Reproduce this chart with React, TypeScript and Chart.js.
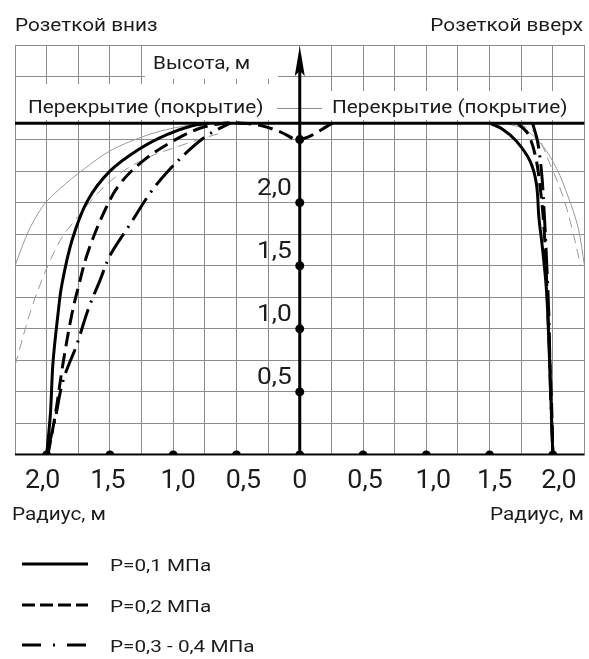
import React, { useEffect, useRef } from "react";
import { Chart, registerables } from "chart.js";

Chart.register(...registerables);

// ---------- data ----------
const xTickValues = [-2, -1.5, -1, -0.5, 0, 0.5, 1, 1.5, 2];
const xTickLabels = ["2,0", "1,5", "1,0", "0,5", "0", "0,5", "1,0", "1,5", "2,0"];
const yTickValues = [0.5, 1, 1.5, 2];
const yTickLabels = ["0,5", "1,0", "1,5", "2,0"];
const yDotValues = [0.5, 1, 1.5, 2, 2.5];
const roofHeight = 2.63;
const radiusMin = -2.25;
const radiusMax = 2.25;
const heightMax = 3.25;

// P = 0.1 MPa (solid)
const p1LeftR = [-2.0, -1.97, -1.95, -1.91, -1.88, -1.8, -1.68, -1.5, -1.26, -1.05, -0.85, -0.72];
const p1LeftH = [0, 0.33, 0.73, 1.12, 1.35, 1.7, 2.01, 2.25, 2.43, 2.54, 2.61, 2.63];
const p1RightR = [1.5, 1.6, 1.71, 1.82, 1.87, 1.89, 1.92, 1.95, 1.97, 2.0];
const p1RightH = [2.63, 2.585, 2.49, 2.33, 2.15, 1.88, 1.62, 1.3, 0.85, 0];

// P = 0.2 MPa (dashed)
const p2LeftR = [-1.99, -1.93, -1.87, -1.8, -1.75, -1.67, -1.53, -1.42, -1.24, -1.0, -0.79, -0.6, -0.45, -0.3, -0.15, 0, 0.26];
const p2LeftH = [0, 0.33, 0.73, 1.12, 1.33, 1.62, 1.96, 2.15, 2.33, 2.49, 2.59, 2.63, 2.63, 2.61, 2.56, 2.5, 2.63];
const p2RightR = [1.72, 1.8, 1.86, 1.9, 1.93, 1.95, 1.97, 1.99, 2.0];
const p2RightH = [2.63, 2.55, 2.38, 2.12, 1.8, 1.4, 0.9, 0.4, 0];

// P = 0.3 - 0.4 MPa (dash-dot)
const p3LeftR = [-2.0, -1.93, -1.87, -1.76, -1.67, -1.58, -1.5, -1.34, -1.18, -1.05, -0.87, -0.72, -0.55];
const p3LeftH = [0, 0.3, 0.59, 0.88, 1.16, 1.38, 1.58, 1.83, 2.08, 2.24, 2.42, 2.54, 2.63];
const p3RightR = [1.84, 1.88, 1.91, 1.93, 1.95, 1.97, 1.98, 2.0];
const p3RightH = [2.63, 2.48, 2.25, 1.95, 1.55, 1.05, 0.55, 0];

// thin grey reference curves
const refSolidLeftR = [-2.25, -2.15, -2.07, -2.0, -1.85, -1.7, -1.5, -1.25, -1.05, -0.79];
const refSolidLeftH = [1.5, 1.76, 1.91, 2.01, 2.15, 2.27, 2.41, 2.52, 2.58, 2.63];
const refDashLeftR = [-2.25, -2.1, -1.91, -1.76, -1.52, -1.26, -0.89, -0.6];
const refDashLeftH = [0.71, 1.22, 1.67, 1.88, 2.15, 2.33, 2.47, 2.56];
const refSolidRightR = [1.62, 1.78, 1.92, 2.03, 2.12, 2.2, 2.25];
const refSolidRightH = [2.63, 2.58, 2.45, 2.27, 2.05, 1.8, 1.5];
const refDashRightR = [1.72, 1.86, 1.98, 2.08, 2.15, 2.22];
const refDashRightH = [2.63, 2.55, 2.3, 2.05, 1.8, 1.5];

const legendLabels = ["P=0,1 МПа", "P=0,2 МПа", "P=0,3 - 0,4 МПа"];

const FONT = "Roboto, 'Noto Sans', sans-serif";
const TEXT = "#1c1c1c";
// small horizontal nudges of the radius labels (layout only)
const xLabelNudge = [-4, -2, 5, 7, 0, 2, 7, 5, 6];

const pts = (r: number[], h: number[]) => r.map((x, i) => ({ x, y: h[i] }));

// draw text with a slight horizontal stretch (reference text is wide)
function drawText(ctx: any, text: string, x: number, y: number, size: number, align: string, sx: number, baseline = "alphabetic") {
  ctx.save();
  ctx.font = `${size}px ${FONT}`;
  ctx.textAlign = align;
  ctx.textBaseline = baseline;
  ctx.fillStyle = TEXT;
  ctx.translate(x, y);
  ctx.scale(sx, 1);
  ctx.fillText(text, 0, 0);
  ctx.restore();
}

const overlayPlugin = {
  id: "overlay",
  beforeDatasetsDraw(chart: any) {
    const ctx = chart.ctx;
    ctx.save();
    ctx.fillStyle = "#ffffff";
    // white label boxes that cover the grid
    ctx.fillRect(145, 46, 133, 33);
    ctx.fillRect(16, 84, 261, 36);
    ctx.fillRect(322, 91, 262, 29);
    ctx.restore();
  },
  afterDraw(chart: any) {
    const ctx = chart.ctx;
    const xs = chart.scales.x;
    const ys = chart.scales.y;
    const area = chart.chartArea;
    const x0 = xs.getPixelForValue(0);
    ctx.save();
    // arrow head of the height axis
    ctx.fillStyle = "#000";
    ctx.beginPath();
    ctx.moveTo(x0, area.top + 1);
    ctx.lineTo(x0 - 5, area.top + 31);
    ctx.lineTo(x0, area.top + 26);
    ctx.lineTo(x0 + 5, area.top + 31);
    ctx.closePath();
    ctx.fill();
    ctx.restore();

    // tick labels
    xTickValues.forEach((v, i) => {
      drawText(ctx, xTickLabels[i], xs.getPixelForValue(v) + xLabelNudge[i], ys.getPixelForValue(0) + 33, 25.5, "center", 1.05);
    });
    yTickValues.forEach((v, i) => {
      drawText(ctx, yTickLabels[i], x0 - 8, ys.getPixelForValue(v) - 8, 23.5, "right", 1.12);
    });

    // titles
    drawText(ctx, "Розеткой вниз", 15, 31, 18.7, "left", 1.11);
    drawText(ctx, "Высота, м", 153, 69, 18.7, "left", 1.11);
    drawText(ctx, "Перекрытие (покрытие)", 28, 113, 18.7, "left", 1.11);
    drawText(ctx, "Перекрытие (покрытие)", 332, 113, 18.7, "left", 1.11);
    drawText(ctx, "Радиус, м", 12, 520, 18.7, "left", 1.11);
    drawText(ctx, "Розеткой вверх", 583, 31, 18.7, "right", 1.11);
    drawText(ctx, "Радиус, м", 584, 520, 18.7, "right", 1.11);

    // legend
    const dashes = [[], [13, 5], [19, 12, 2, 12]];
    const rows = [564, 605, 645];
    ctx.save();
    rows.forEach((y, i) => {
      ctx.strokeStyle = "#000";
      ctx.lineWidth = 3;
      ctx.setLineDash(dashes[i]);
      ctx.beginPath();
      ctx.moveTo(22, y);
      ctx.lineTo(88, y);
      ctx.stroke();
      ctx.setLineDash([]);
      drawText(ctx, legendLabels[i], 110, y + 7, 17, "left", 1.22);
    });
    ctx.restore();
  },
};

export default function App() {
  const canvasRef = useRef<HTMLCanvasElement | null>(null);

  useEffect(() => {
    document.body.style.margin = "0";
    const canvas = canvasRef.current;
    if (!canvas) return;

    const thick = (data: any, dash: number[]) => ({
      data,
      showLine: true,
      borderColor: "#000",
      borderWidth: 3,
      borderDash: dash,
      pointRadius: 0,
      tension: 0.35,
      fill: false,
    });
    const thin = (data: any, dash: number[]) => ({
      data,
      showLine: true,
      borderColor: "#9a9a9a",
      borderWidth: 1,
      borderDash: dash,
      pointRadius: 0,
      tension: 0.35,
      fill: false,
    });

    const chart = new Chart(canvas, {
      type: "scatter",
      data: {
        datasets: [
          {
            data: [
              ...xTickValues.map((x) => ({ x, y: 0 })),
              ...yDotValues.map((y) => ({ x: 0, y })),
            ],
            showLine: false,
            pointRadius: 4.5,
            pointBackgroundColor: "#000",
            pointBorderWidth: 0,
          } as any,
          { ...thick([{ x: radiusMin, y: 0 }, { x: radiusMax, y: 0 }], []), tension: 0 },
          { ...thick([{ x: 0, y: 0 }, { x: 0, y: heightMax - 0.2 }], []), tension: 0 },
          { ...thick([{ x: radiusMin, y: roofHeight }, { x: radiusMax, y: roofHeight }], []), tension: 0 },
          thick(pts(p1LeftR, p1LeftH), []),
          thick(pts(p1RightR, p1RightH), []),
          thick(pts(p2LeftR, p2LeftH), [15, 7]),
          thick(pts(p2RightR, p2RightH), [15, 7]),
          thick(pts(p3LeftR, p3LeftH), [26, 7, 2, 7]),
          thick(pts(p3RightR, p3RightH), [26, 7, 2, 7]),
          thin(pts(refSolidLeftR, refSolidLeftH), []),
          thin(pts(refDashLeftR, refDashLeftH), [10, 6]),
          thin(pts(refSolidRightR, refSolidRightH), []),
          thin(pts(refDashRightR, refDashRightH), [10, 6]),
        ],
      },
      options: {
        responsive: false,
        animation: false,
        devicePixelRatio: 1,
        layout: { padding: { left: 15, right: 4, top: 45, bottom: 204 } },
        plugins: { legend: { display: false }, tooltip: { enabled: false } },
        scales: {
          x: {
            type: "linear",
            min: radiusMin,
            max: radiusMax,
            ticks: { display: false, stepSize: 0.25 },
            grid: { color: "#8c8c8c", lineWidth: 1, drawTicks: false },
            border: { display: false },
          },
          y: {
            type: "linear",
            min: 0,
            max: heightMax,
            ticks: { display: false, stepSize: 0.25 },
            grid: { color: "#8c8c8c", lineWidth: 1, drawTicks: false },
            border: { display: false },
          },
        },
      },
      plugins: [overlayPlugin],
    } as any);

    return () => chart.destroy();
  }, []);

  return (
    <div style={{ width: 589, height: 659, position: "relative" }}>
      <canvas ref={canvasRef} width={589} height={659} style={{ width: 589, height: 659, display: "block" }} />
    </div>
  );
}
